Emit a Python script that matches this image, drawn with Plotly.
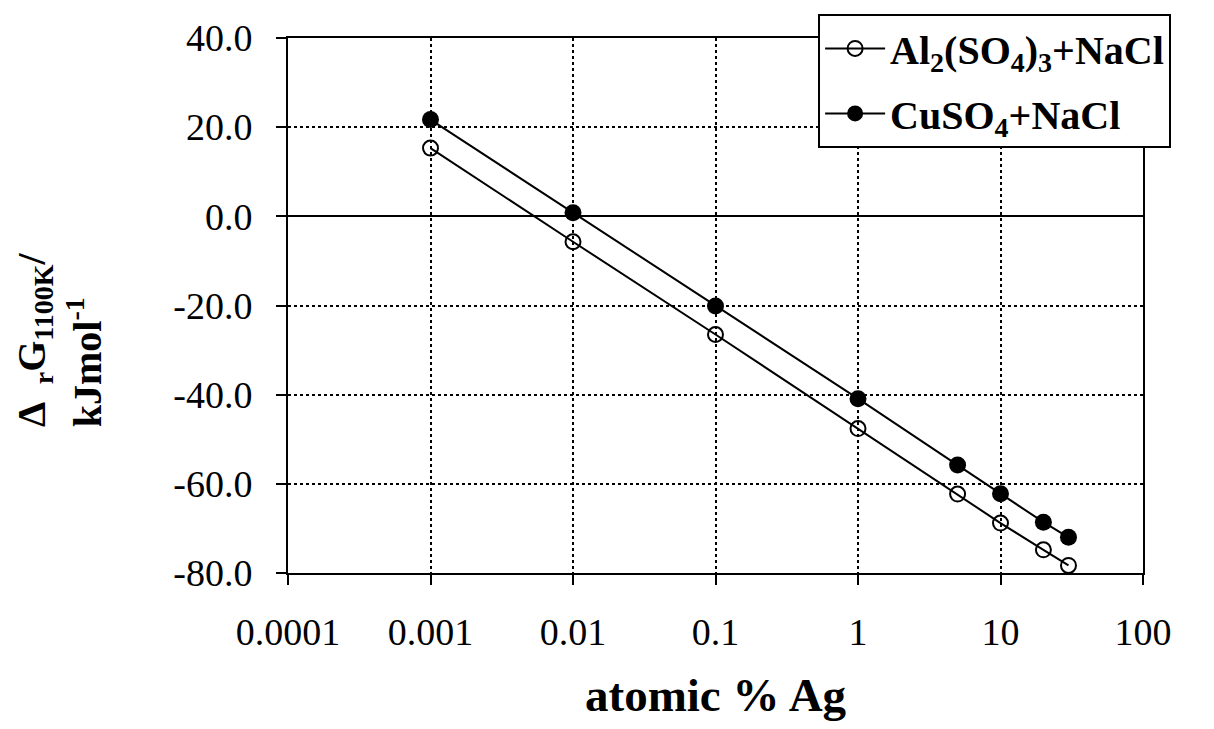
import plotly.graph_objects as go

atomic_pct_ag = [0.001, 0.01, 0.1, 1, 5, 10, 20, 30]
al2so43_nacl = [15.3, -5.7, -26.5, -47.6, -62.3, -68.8, -74.8, -78.3]
cuso4_nacl = [21.7, 0.8, -20.1, -40.9, -55.8, -62.2, -68.6, -72.0]

x_tickvals = [0.0001, 0.001, 0.01, 0.1, 1, 10, 100]
x_ticktext = ["0.0001", "0.001", "0.01", "0.1", "1", "10", "100"]
y_tickvals = [40, 20, 0, -20, -40, -60, -80]
y_ticktext = ["40.0", "20.0", "0.0", "-20.0", "-40.0", "-60.0", "-80.0"]

FONT = "Liberation Serif"

fig = go.Figure()
fig.add_trace(go.Scatter(
    x=atomic_pct_ag, y=al2so43_nacl, mode="lines+markers",
    name="<b>Al<sub>2</sub>(SO<sub>4</sub>)<sub>3</sub>+NaCl</b>",
    legendgroup="a",
    line=dict(color="black", width=2),
    marker=dict(symbol="circle-open", size=15, color="black", line=dict(width=2)),
))
fig.add_trace(go.Scatter(
    x=atomic_pct_ag, y=cuso4_nacl, mode="lines+markers",
    name="<b>CuSO<sub>4</sub>+NaCl</b>",
    legendgroup="b",
    line=dict(color="black", width=2),
    marker=dict(symbol="circle", size=17, color="black"),
))

fig.update_layout(
    width=1198, height=713,
    margin=dict(l=280, r=63, t=30, b=148, autoexpand=False),
    paper_bgcolor="white", plot_bgcolor="white",
    font=dict(family=FONT, color="black", size=38),
    showlegend=True,
    legend=dict(
        x=0.62, y=1.045, xanchor="left", yanchor="top",
        bordercolor="black", borderwidth=2, bgcolor="white",
        font=dict(family=FONT, size=40, color="black"),
        tracegroupgap=10, itemwidth=60,
    ),
    xaxis=dict(
        type="log", range=[-4, 2], automargin=False,
        tickvals=x_tickvals, ticktext=x_ticktext,
        showgrid=True, gridcolor="black", gridwidth=2, griddash="dot",
        showline=True, linecolor="black", linewidth=2, mirror=True,
        ticks="outside", ticklen=10, tickwidth=2, tickcolor="black",
        ticklabelstandoff=14,
        tickfont=dict(family=FONT, size=38),
    ),
    yaxis=dict(
        range=[-80, 40], automargin=False,
        tickvals=y_tickvals, ticktext=y_ticktext,
        showgrid=True, gridcolor="black", gridwidth=2, griddash="dot",
        zeroline=True, zerolinecolor="black", zerolinewidth=2,
        showline=True, linecolor="black", linewidth=2, mirror=True,
        ticks="outside", ticklen=10, tickwidth=2, tickcolor="black",
        ticklabelstandoff=16,
        tickfont=dict(family=FONT, size=38),
    ),
    annotations=[
        dict(text="<b>atomic % Ag</b>", xref="paper", yref="paper",
             x=0.5, y=-0.228, xanchor="center", yanchor="middle",
             showarrow=False, font=dict(family=FONT, size=47, color="black")),
        dict(text="<b>Δ  <sub>r</sub>G<sub>1100K</sub>/</b>", xref="paper", yref="paper",
             x=-0.297, y=0.4355, xanchor="center", yanchor="middle", textangle=-90,
             showarrow=False, font=dict(family=FONT, size=40, color="black")),
        dict(text="<b>kJmol<sup>-1</sup></b>", xref="paper", yref="paper",
             x=-0.2386, y=0.394, xanchor="center", yanchor="middle", textangle=-90,
             showarrow=False, font=dict(family=FONT, size=40, color="black")),
    ],
)

fig.write_html("out.html")
